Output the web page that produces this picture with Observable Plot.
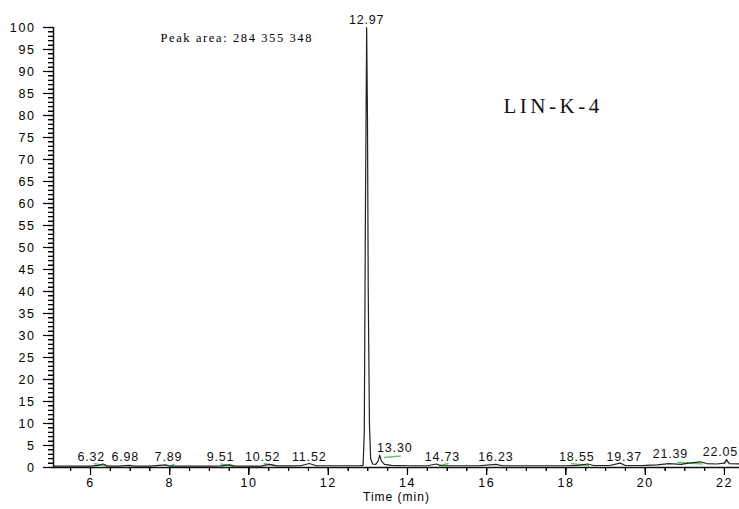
<!DOCTYPE html>
<html>
<head>
<meta charset="utf-8">
<script src="https://cdn.jsdelivr.net/npm/d3@7"></script>
<script src="https://cdn.jsdelivr.net/npm/@observablehq/plot@0.6"></script>
<style>
  html, body { margin: 0; padding: 0; background: #fff; }
  #chart svg { display: block; overflow: visible; }
</style>
</head>
<body>
<div id="chart"></div>
<script>
// ---- data ----
const xDomain = [5.066, 22.38];
const yDomain = [0, 100];
const xMajorTicks = [6, 8, 10, 12, 14, 16, 18, 20, 22];
const yMajorTicks = [0, 5, 10, 15, 20, 25, 30, 35, 40, 45, 50, 55, 60, 65, 70, 75, 80, 85, 90, 95, 100];
const xMinorTicks = d3.range(5.5, 22.01, 0.5);
const yMinorTicks = d3.range(0, 100.01, 1);

// chromatogram trace (time in min, relative abundance)
const traceTime = [5.07, 5.5, 6.0, 6.2, 6.32, 6.45, 6.7, 6.98, 7.1, 7.5, 7.89, 8.0, 8.5, 9.0, 9.3, 9.51, 9.65,
  10.0, 10.3, 10.52, 10.7, 11.0, 11.3, 11.52, 11.7, 12.0, 12.4, 12.8, 12.88, 12.91, 12.94, 12.97, 12.99,
  13.01, 13.04, 13.07, 13.12, 13.2, 13.26, 13.30, 13.34, 13.42, 13.6, 14.0, 14.5, 14.73, 14.85, 15.3,
  15.8, 16.23, 16.4, 17.0, 17.5, 18.0, 18.3, 18.55, 18.7, 19.1, 19.37, 19.5, 20.0, 20.3, 20.6, 20.9,
  21.1, 21.39, 21.55, 21.8, 22.0, 22.05, 22.12, 22.38];
const traceValue = [0.3, 0.3, 0.3, 0.5, 0.8, 0.3, 0.3, 0.5, 0.3, 0.3, 0.6, 0.3, 0.3, 0.3, 0.35, 0.6, 0.3,
  0.3, 0.3, 0.7, 0.35, 0.35, 0.4, 0.9, 0.4, 0.4, 0.4, 0.4, 0.5, 8, 60, 100, 80,
  40, 10, 2, 0.8, 0.7, 1.5, 2.8, 1.5, 0.7, 0.5, 0.4, 0.4, 0.8, 0.4, 0.4,
  0.4, 0.7, 0.4, 0.4, 0.4, 0.4, 0.5, 0.8, 0.45, 0.45, 1.0, 0.45, 0.5, 0.6, 0.9, 0.7,
  1.0, 1.3, 0.9, 0.8, 1.0, 1.8, 0.9, 0.8];

// labelled peaks
const peakTimes = [6.32, 6.98, 7.89, 9.51, 10.52, 11.52, 12.97, 13.30, 14.73, 16.23, 18.55, 19.37, 21.39, 22.05];
const peakHeights = [0.5, 0.5, 0.5, 0.5, 0.6, 0.6, 100, 2.6, 0.5, 0.5, 0.6, 0.6, 1.2, 1.6];
const peakLabels = ["6.32", "6.98", "7.89", "9.51", "10.52", "11.52", "12.97", "13.30", "14.73", "16.23", "18.55", "19.37", "21.39", "22.05"];
// label nudges applied by the software to avoid overlaps (px)
const labelShift = [-12, -4, 3, -9, -7, 0, 0, 15, 6, 0, -11, 4, -30, -6];

// integration baselines (green)
const baseStart = [6.08, 8.02, 9.28, 10.37, 13.40, 14.79, 18.12, 20.82, 21.98];
const baseEnd   = [6.43, 8.12, 9.61, 10.67, 13.83, 15.04, 18.58, 21.45, 22.08];
const baseY1    = [0.9, 0.3, 0.8, 0.9, 2.3, 0.4, 0.9, 1.2, 0.8];
const baseY2    = [0.3, 0.8, 0.3, 0.4, 2.6, 0.9, 0.4, 0.8, 1.6];

const titleText = "LIN-K-4";
const areaText = "Peak area: 284 355 348";
const xLabel = "Time (min)";

// ---- chart ----
const W = 739, H = 509, mL = 53, mR = 0, mT = 27, mB = 42;
const frameW = W - mL - mR, frameH = H - mT - mB;

const trace = traceTime.map((t, i) => ({t, v: traceValue[i]}));
const peaks = peakTimes.map((t, i) => ({t, h: peakHeights[i], label: peakLabels[i]}));
const bases = baseStart.map((s, i) => ({x1: s, x2: baseEnd[i], y1: baseY1[i], y2: baseY2[i]}));

const sans = "Liberation Sans, Arial, sans-serif";
const serif = "Liberation Serif, Times New Roman, serif";

const chart = Plot.plot({
  width: W,
  height: H,
  marginLeft: mL,
  marginRight: mR,
  marginTop: mT,
  marginBottom: mB,
  x: {domain: xDomain},
  y: {domain: yDomain},
  style: {fontFamily: sans, fontSize: "12.5px", color: "#000", background: "#fff", overflow: "visible"},
  marks: [
    Plot.axisY({ticks: yMajorTicks, tickSize: 0, tickPadding: 18, label: null, fontSize: 12.5}),
    Plot.axisX({ticks: xMajorTicks, tickSize: 0, tickPadding: 11, label: null, fontSize: 12.5}),
    Plot.link(bases, {x1: "x1", y1: "y1", x2: "x2", y2: "y2", stroke: "#6cc46c", strokeWidth: 1.5}),
    Plot.line(trace, {x: "t", y: "v", stroke: "#222", strokeWidth: 1.2}),
    Plot.text(peaks, {x: "t", y: "h", text: "label", lineAnchor: "bottom", dy: -4, fontSize: 12.5, fill: "#111"}),
    Plot.text([xLabel], {frameAnchor: "bottom", dy: 33, fontSize: 12, fill: "#000"}),
    Plot.text([areaText], {frameAnchor: "top-left", textAnchor: "start", dx: 107, dy: 6, fontFamily: serif, fontSize: 12.5, fill: "#000"}),
    Plot.text([titleText], {frameAnchor: "top-left", textAnchor: "start", dx: 450, dy: 71, fontFamily: serif, fontSize: 21, fill: "#111"}),
    Plot.ruleY([yDomain[0]], {stroke: "#111", strokeWidth: 1.5}),
    Plot.ruleX([xDomain[0]], {stroke: "#111", strokeWidth: 1.5}),
    Plot.tickY(yMinorTicks, {y: d => d, insetLeft: -5, insetRight: frameW, stroke: "#000", strokeWidth: 1.2}),
    Plot.tickY(yMajorTicks, {y: d => d, insetLeft: -10, insetRight: frameW, stroke: "#000", strokeWidth: 1.2}),
    Plot.tickX(xMinorTicks, {x: d => d, insetTop: frameH, insetBottom: -4, stroke: "#000", strokeWidth: 1.2}),
    Plot.tickX(xMajorTicks, {x: d => d, insetTop: frameH, insetBottom: -8, stroke: "#000", strokeWidth: 1.2})
  ]
});

document.getElementById("chart").appendChild(chart);

// letter spacing (the source image is stretched horizontally) and label nudges
d3.select(chart).selectAll('g[aria-label="y-axis tick label"] text, g[aria-label="x-axis tick label"] text')
  .style("letter-spacing", "1.6px");
const textGroups = chart.querySelectorAll('g[aria-label="text"]');
d3.select(textGroups[0]).selectAll("text").each(function(d, i) {
  const el = d3.select(this);
  el.style("letter-spacing", "0.8px");
  const tr = el.attr("transform");
  el.attr("transform", (tr ? tr + " " : "") + `translate(${labelShift[i]},0)`);
});
d3.select(textGroups[1]).selectAll("text").style("letter-spacing", "1px");
d3.select(textGroups[2]).selectAll("text").style("letter-spacing", "1.6px");
d3.select(textGroups[3]).selectAll("text").style("letter-spacing", "3.5px");

// extra safety: axis ticks positioned with Plot's own scales
try {
  const sx = chart.scale("x"), sy = chart.scale("y");
  const g = d3.select(chart).append("g").attr("aria-label", "axis ticks")
    .attr("stroke", "#000").attr("stroke-width", 1).attr("shape-rendering", "crispEdges");
  const x0 = sx.apply(xDomain[0]), y0 = sy.apply(yDomain[0]);
  yMinorTicks.forEach(v => {
    const y = Math.round(sy.apply(v)) + 0.5;
    g.append("line").attr("x1", x0 - (yMajorTicks.includes(v) ? 10 : 5)).attr("x2", x0).attr("y1", y).attr("y2", y);
  });
  xMinorTicks.forEach(v => {
    const x = Math.round(sx.apply(v)) + 0.5;
    g.append("line").attr("x1", x).attr("x2", x).attr("y1", y0).attr("y2", y0 + (xMajorTicks.includes(v) ? 8 : 4));
  });
} catch (e) {}
</script>
</body>
</html>
